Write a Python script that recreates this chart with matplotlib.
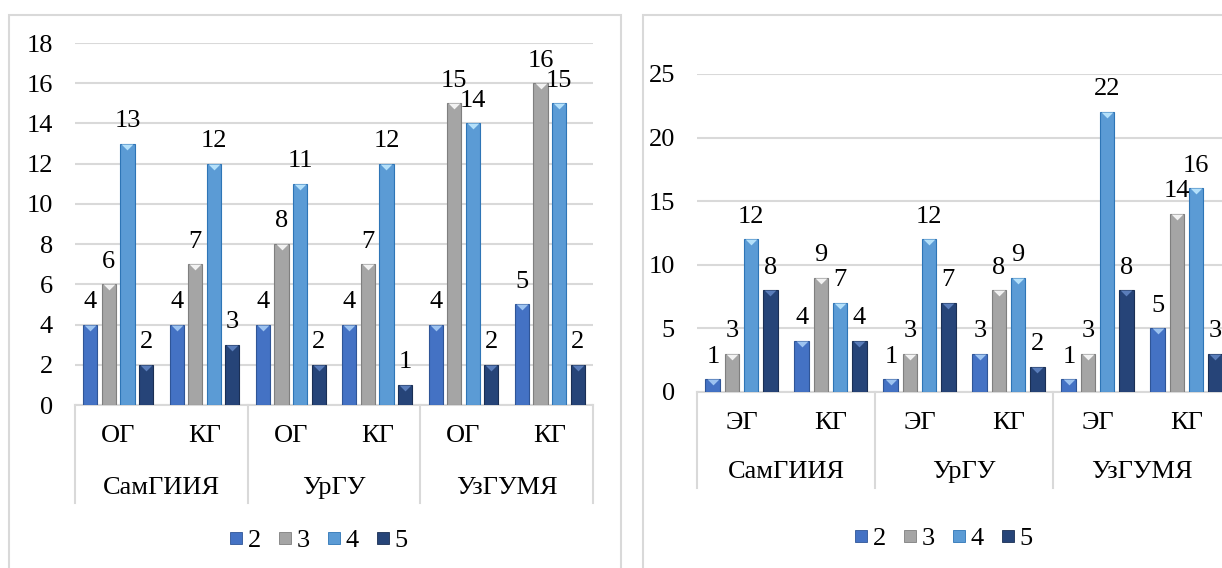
import numpy as np
import matplotlib
matplotlib.use("Agg")
import matplotlib.pyplot as plt
from matplotlib.path import Path
from matplotlib.lines import Line2D
from matplotlib.patches import Rectangle
from matplotlib.transforms import blended_transform_factory

plt.rcParams['font.family'] = ['Liberation Serif', 'DejaVu Serif']

# data
groups = ['СамГИИЯ', 'УрГУ', 'УзГУМЯ']
left_sub = ['ОГ', 'КГ']
right_sub = ['ЭГ', 'КГ']
series_names = ['2', '3', '4', '5']

left_s2 = [4, 4, 4, 4, 4, 5]
left_s3 = [6, 7, 8, 7, 15, 16]
left_s4 = [13, 12, 11, 12, 14, 15]
left_s5 = [2, 3, 2, 1, 2, 2]

right_s2 = [1, 4, 1, 3, 1, 5]
right_s3 = [3, 9, 3, 8, 3, 14]
right_s4 = [12, 7, 12, 9, 22, 16]
right_s5 = [8, 4, 7, 2, 8, 3]

colors = ['#4472C4', '#A5A5A5', '#5B9BD5', '#264478']
edges = ['#2F5597', '#7F7F7F', '#2E75B6', '#1A2F54']
tips = ['#9DC3F0', '#F2F2F2', '#B4E0FA', '#5A7DBA']
grid_c = '#D9D9D9'
FS = 19

W, H = 1222, 568
fig = plt.figure(figsize=(W / 100, H / 100), dpi=100)

# little light triangle on top of each bar (bevel look)
tip = Path([(-1, 0), (1, 0), (0, -1), (-1, 0)],
           [Path.MOVETO, Path.LINETO, Path.LINETO, Path.CLOSEPOLY])


def px_axes(x0, x1, ytop, ybot):
    return fig.add_axes([x0 / W, 1 - ybot / H, (x1 - x0) / W, (ybot - ytop) / H])


def panel(ax, subs, series, ymax, step, sep_px, sub_px, grp_px, plot_h):
    n = len(series[0])
    x = np.arange(n)
    pitch, bw = 0.215, 0.165
    for i, vals in enumerate(series):
        xs = x + (i - 1.5) * pitch
        ax.bar(xs, vals, bw, color=colors[i], edgecolor=edges[i],
               linewidth=0.8, zorder=3)
        ax.plot(xs, vals, linestyle='none', marker=tip, markersize=8.5,
                markerfacecolor=tips[i], markeredgewidth=0, zorder=4)
        for xx, v in zip(xs, vals):
            ax.annotate(str(v), (xx, v), xytext=(0, 12), textcoords='offset points',
                        ha='center', va='baseline', fontsize=FS, zorder=5)
    ax.set_xlim(-0.5, n - 0.5)
    ax.set_ylim(0, ymax)
    ax.set_yticks(np.arange(0, ymax + 1, step))
    ax.yaxis.grid(True, color=grid_c, linewidth=1.5, zorder=0)
    ax.set_axisbelow(True)
    ax.tick_params(axis='y', length=0, pad=16, labelsize=FS)
    ax.set_xticks([])
    for s in ['top', 'right', 'left']:
        ax.spines[s].set_visible(False)
    ax.spines['bottom'].set_color(grid_c)
    ax.spines['bottom'].set_linewidth(1.5)

    tr = blended_transform_factory(ax.transData, ax.transAxes)
    depth = sep_px / plot_h
    for b in np.arange(-0.5, n, 2):
        ax.plot([b, b], [0, -depth], color=grid_c, linewidth=1.5,
                transform=tr, clip_on=False)
    for k in range(n):
        ax.text(k, -sub_px / plot_h, subs[k % 2], transform=tr,
                ha='center', va='center', fontsize=FS)
    for g, name in enumerate(groups):
        ax.text(2 * g + 0.5, -grp_px / plot_h, name, transform=tr,
                ha='center', va='center', fontsize=FS)


# panel borders
fig.patches.append(Rectangle((9 / W, -0.1), (621 - 9) / W, 1.1 - 15 / H,
                             transform=fig.transFigure, fill=False,
                             edgecolor=grid_c, linewidth=1.5))
fig.patches.append(Rectangle((643 / W, -0.1), 0.5, 1.1 - 15 / H,
                             transform=fig.transFigure, fill=False,
                             edgecolor=grid_c, linewidth=1.5))

ax1 = px_axes(75, 593, 43, 405)
panel(ax1, left_sub, [left_s2, left_s3, left_s4, left_s5], 18, 2,
      98, 31, 83, 362)

ax2 = px_axes(697, 1231, 74, 392)
panel(ax2, right_sub, [right_s2, right_s3, right_s4, right_s5], 25, 5,
      96, 31, 80, 318)

handles = [Line2D([], [], linestyle='none', marker='s', markersize=9,
                  markerfacecolor=c, markeredgecolor=e, markeredgewidth=0.6)
           for c, e in zip(colors, edges)]
for cx, cy in [(318, 540), (943, 538)]:
    fig.legend(handles, series_names, loc='center', bbox_to_anchor=(cx / W, 1 - cy / H),
               ncol=4, frameon=False, fontsize=FS, handlelength=0.6,
               handletextpad=0.15, columnspacing=0.6, borderpad=0)

fig.savefig('out.png', dpi=100)
